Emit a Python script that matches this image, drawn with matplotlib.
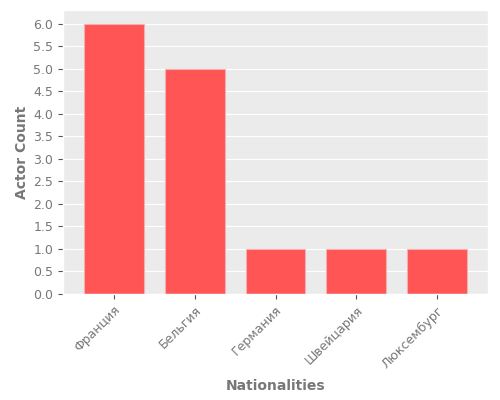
import matplotlib
matplotlib.use('Agg')
import matplotlib.pyplot as plt

# data
countries = ['Франция', 'Бельгия', 'Германия', 'Швейцария', 'Люксембург']
actor_counts = [6, 5, 1, 1, 1]

plt.style.use('ggplot')

fig, ax = plt.subplots(figsize=(5, 4), dpi=100)
fig.subplots_adjust(left=0.126, right=0.976, top=0.975, bottom=0.265)
ax.set_facecolor('#EBEBEB')

ax.bar(range(len(countries)), actor_counts, width=0.74,
       color='#FF5555', edgecolor='#F4B0B0', linewidth=0.8)

ax.set_xlim(-0.63, len(countries) - 0.37)
ax.set_yticks([i * 0.5 for i in range(13)])
ax.set_xticks(range(len(countries)))
ax.set_xticklabels(countries, rotation=45, ha='right', rotation_mode='anchor')
ax.tick_params(colors='#555555', labelcolor='#777777', labelsize=9)
ax.grid(axis='x', visible=False)

ax.set_xlabel('Nationalities', fontsize=10, fontweight='bold', color='#777777', labelpad=6)
ax.set_ylabel('Actor Count', fontsize=10, fontweight='bold', color='#777777', labelpad=3)

fig.savefig('out.png')
